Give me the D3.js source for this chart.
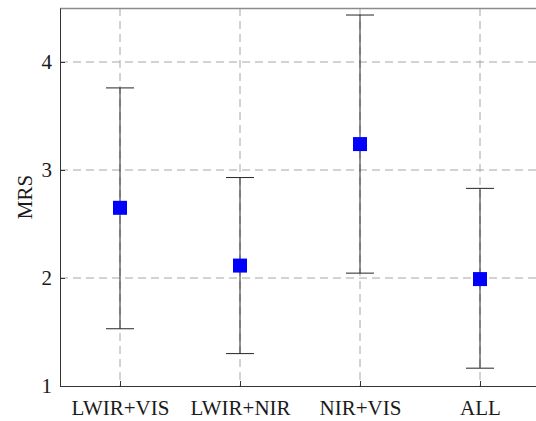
<!DOCTYPE html>
<html>
<head>
<meta charset="utf-8">
<script src="https://cdn.jsdelivr.net/npm/d3@7"></script>
<style>
  body { margin: 0; background: #fff; }
  svg text { font-family: "Liberation Serif", "Times New Roman", serif; }
</style>
</head>
<body>
<div class="chart"></div>
<script>
// values
const groups = ["LWIR+VIS", "LWIR+NIR", "NIR+VIS", "ALL"];
const means  = [2.65, 2.115, 3.24, 1.99];
const lowers = [1.53, 1.30, 2.045, 1.165];
const uppers = [3.76, 2.93, 4.435, 2.83];
const yTicks = [1, 2, 3, 4];

const margin = ({top: 8, right: 0, bottom: 35, left: 60});
const W = 536, H = 421;
const height = H - margin.top - margin.bottom;   // 378
const width = 480;

const svg = d3.select(".chart").append("svg")
    .attr("width", W).attr("height", H);

const g = svg.append("g")
    .attr("transform", `translate(${margin.left},${margin.top})`);

const xScale = d3.scaleLinear().domain([0.5, 4.5]).range([0, width]);
const yScale = d3.scaleLinear().domain([1, 4.5]).range([height, 0]);

const data = groups.map((d, i) => ({name: d, pos: i + 1, mean: means[i], lo: lowers[i], hi: uppers[i]}));

// grid
g.append("g").selectAll("line").data(yTicks.slice(1)).enter().append("line")
    .attr("x1", 0).attr("x2", width)
    .attr("y1", d => yScale(d)).attr("y2", d => yScale(d))
    .attr("stroke", "#a6a6a6").attr("stroke-dasharray", "8,5");
g.append("g").selectAll("line").data(data).enter().append("line")
    .attr("x1", d => xScale(d.pos)).attr("x2", d => xScale(d.pos))
    .attr("y1", 0).attr("y2", height)
    .attr("stroke", "#a6a6a6").attr("stroke-dasharray", "8,5");

// top border
g.append("line").attr("x1", 0).attr("x2", width).attr("y1", 0.5).attr("y2", 0.5)
    .attr("stroke", "#8c8c8c").attr("stroke-width", 1.5);

// axes
const xAxis = d3.axisBottom(xScale).tickValues(data.map(d => d.pos))
    .tickFormat((d, i) => groups[i]).tickSizeInner(-5).tickSizeOuter(0).tickPadding(14);
g.append("g").attr("class", "axis x-axis")
    .attr("transform", `translate(0,${height})`)
    .call(xAxis);

const yAxis = d3.axisLeft(yScale).tickValues(yTicks).tickFormat(d3.format("d"))
    .tickSizeInner(-5).tickSizeOuter(0).tickPadding(8);
g.append("g").attr("class", "axis y-axis").call(yAxis);

svg.selectAll(".axis").attr("font-family", null);
svg.selectAll(".axis path").attr("stroke", "#333");
svg.selectAll(".axis line").attr("stroke", "#333");
svg.selectAll(".axis text").attr("font-size", 21).attr("fill", "#1a1a1a");

// y title
svg.append("text")
    .attr("transform", `translate(32,${margin.top + height / 2}) rotate(-90)`)
    .attr("text-anchor", "middle")
    .attr("font-size", 21).attr("fill", "#1a1a1a")
    .text("MRS");

// error bars
const bars = g.append("g").selectAll("g").data(data).enter().append("g");
bars.append("line")
    .attr("x1", d => xScale(d.pos)).attr("x2", d => xScale(d.pos))
    .attr("y1", d => yScale(d.lo)).attr("y2", d => yScale(d.hi))
    .attr("stroke", "#262626");
bars.append("line")
    .attr("x1", d => xScale(d.pos) - 14).attr("x2", d => xScale(d.pos) + 14)
    .attr("y1", d => yScale(d.hi)).attr("y2", d => yScale(d.hi))
    .attr("stroke", "#262626");
bars.append("line")
    .attr("x1", d => xScale(d.pos) - 14).attr("x2", d => xScale(d.pos) + 14)
    .attr("y1", d => yScale(d.lo)).attr("y2", d => yScale(d.lo))
    .attr("stroke", "#262626");
bars.append("rect")
    .attr("x", d => xScale(d.pos) - 7).attr("y", d => yScale(d.mean) - 7)
    .attr("width", 14).attr("height", 14)
    .attr("fill", "#0000ff");
</script>
</body>
</html>
